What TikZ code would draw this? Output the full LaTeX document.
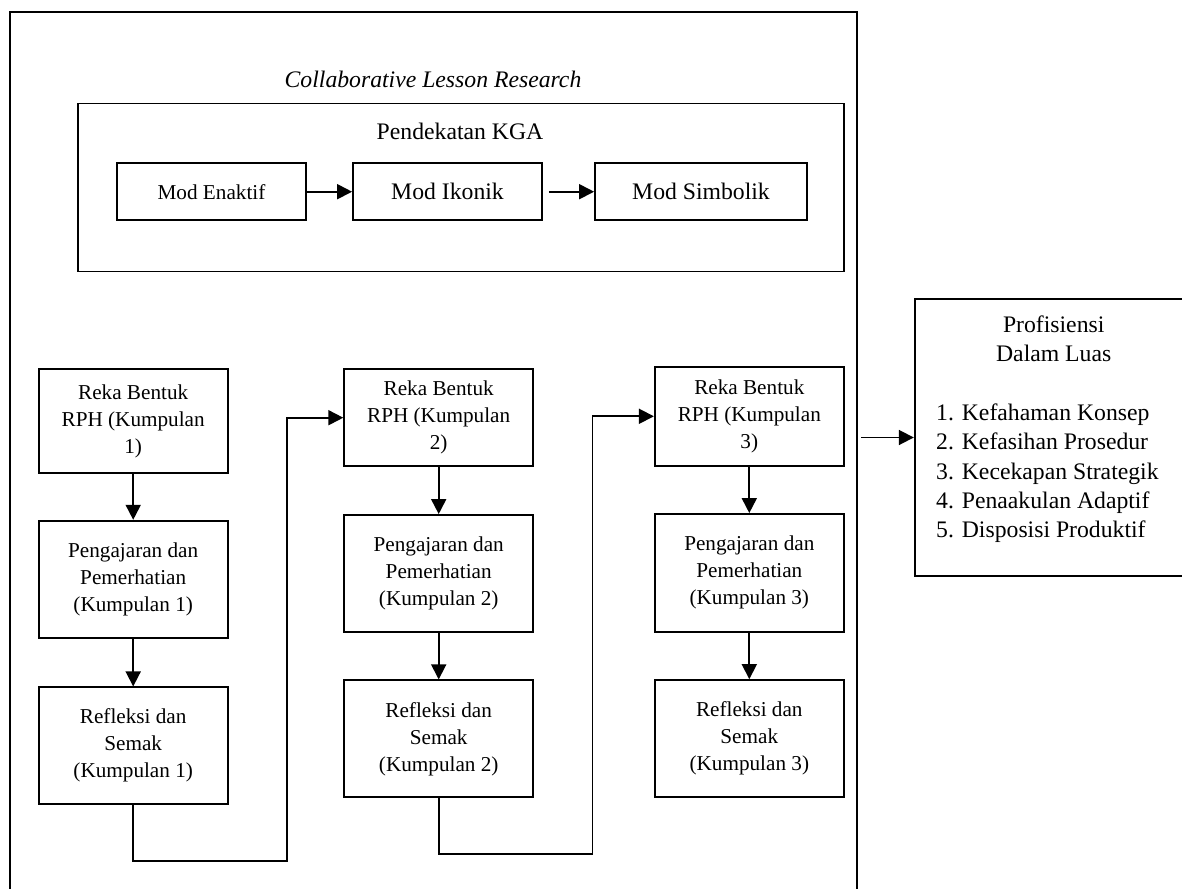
\documentclass[tikz,border=0pt]{standalone}
\usepackage{fontspec}
\setmainfont{Liberation Serif}
\usetikzlibrary{arrows.meta, positioning, calc}

\begin{document}
\begin{tikzpicture}[x=1pt, y=-1pt,
        box/.style={rectangle, draw, line width=1.8pt, align=center, inner sep=0pt, font=\fontsize{21.2}{27}\selectfont},
        flowbox/.style={box, minimum width=189pt},
        txt/.style={align=center, inner sep=0pt, font=\fontsize{23.7}{28.5}\selectfont},
        arrow/.style={-{Triangle[length=15pt, width=15pt]}, line width=1.8pt}
    ]
        \useasboundingbox (0,0) rectangle (1182,888);

        \node[draw, line width=2.2pt, minimum width=847pt, minimum height=1000pt] (clr) at (433.5, 512) {};
        \node[txt] (title) at (433, 79) {\itshape Collaborative Lesson Research};

        \node[box, minimum width=766pt, minimum height=168pt] (kga) at (461, 187.5) {};
        \node[txt] (kgatitle) at (460, 131) {Pendekatan KGA};
        \node[box, minimum width=189pt, minimum height=57pt] (enak) at (211.5, 191.7) {Mod Enaktif};
        \node[box, font=\fontsize{23.7}{28.5}\selectfont, minimum width=189pt, minimum height=57pt] (ikon) at (447.5, 191.7) {Mod Ikonik};
        \node[box, font=\fontsize{23.7}{28.5}\selectfont, minimum width=212pt, minimum height=57pt] (simb) at (701, 191.7) {Mod Simbolik};
        \draw[arrow] (enak) -- (ikon);
        \draw[arrow, shorten <=6pt] (ikon) -- (simb);

        \node[flowbox, minimum height=103.7pt] (rb1) at (133.2, 421.2) {Reka Bentuk\\RPH (Kumpulan\\1)};
        \node[flowbox, minimum height=117.6pt] (pp1) at (133.2, 579.5) {Pengajaran dan\\Pemerhatian\\(Kumpulan 1)};
        \node[flowbox, minimum height=116.7pt] (rs1) at (133.2, 745.7) {Refleksi dan\\Semak\\(Kumpulan 1)};

        \node[flowbox, minimum height=96.7pt] (rb2) at (438.7, 417.7) {Reka Bentuk\\RPH (Kumpulan\\2)};
        \node[flowbox, minimum height=116.7pt] (pp2) at (438.7, 573.3) {Pengajaran dan\\Pemerhatian\\(Kumpulan 2)};
        \node[flowbox, minimum height=117pt] (rs2) at (438.7, 738.8) {Refleksi dan\\Semak\\(Kumpulan 2)};

        \node[flowbox, minimum height=99.3pt] (rb3) at (749.3, 416.3) {Reka Bentuk\\RPH (Kumpulan\\3)};
        \node[flowbox, minimum height=117.7pt] (pp3) at (749.3, 572.8) {Pengajaran dan\\Pemerhatian\\(Kumpulan 3)};
        \node[flowbox, minimum height=117.3pt] (rs3) at (749.3, 738.7) {Refleksi dan\\Semak\\(Kumpulan 3)};

        \draw[arrow] (rb1) -- (pp1);
        \draw[arrow] (pp1) -- (rs1);
        \draw[arrow] (rb2) -- (pp2);
        \draw[arrow] (pp2) -- (rs2);
        \draw[arrow] (rb3) -- (pp3);
        \draw[arrow] (pp3) -- (rs3);

        \coordinate (loopA) at (287, 860.7);
        \coordinate (loopB) at (592.4, 854);
        \draw[arrow] (rs1.south) |- (loopA) |- (rb2.west);
        \draw[arrow] (rs2.south) |- (loopB) |- (rb3.west);

        \node[box, minimum width=278pt, minimum height=277pt] (prof) at (1053.7, 437.5) {};
        \node[txt] (proftitle) at (1053.7, 339) {Profisiensi\\Dalam Luas};
        \node[txt, align=left, anchor=west, font=\fontsize{23.7}{29.2}\selectfont] (proflist) at (936, 473.3) {1. Kefahaman Konsep\\2. Kefasihan Prosedur\\3. Kecekapan Strategik\\4. Penaakulan Adaptif\\5. Disposisi Produktif};
        \draw[arrow, shorten <=3pt] (clr.east |- prof.west) -- (prof.west);
    \end{tikzpicture}
\end{document}
